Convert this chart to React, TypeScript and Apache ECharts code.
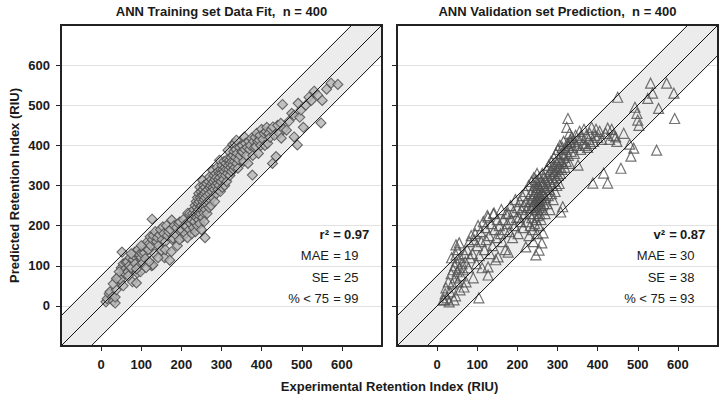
import React, { useEffect, useRef } from "react";
import * as echarts from "echarts";

// ---------- data ----------
const panelTitles = ["ANN Training set Data Fit,  n = 400", "ANN Validation set Prediction,  n = 400"];
const yAxisTitle = "Predicted Retention Index (RIU)";
const xAxisTitle = "Experimental Retention Index (RIU)";
const tickValues = [0, 100, 200, 300, 400, 500, 600];
const axisMin = -100;
const axisMax = 700;

const statLabelsTrain = ["r²", "MAE", "SE", "% < 75"];
const statValuesTrain = ["0.97", "19", "25", "99"];
const statLabelsVal = ["v²", "MAE", "SE", "% < 75"];
const statValuesVal = ["0.87", "30", "38", "93"];

// band of +/- 75 around the identity line
const bandPolygon = [[-100, -25], [625, 700], [700, 700], [700, 625], [-25, -100], [-100, -100]];
const bandLines = [
  [[-100, -25], [625, 700]],
  [[-100, -100], [700, 700]],
  [[-25, -100], [700, 625]],
];

const trainPoints = [
  [12,10],[15,18],[20,30],[22,35],[28,22],[30,12],[35,7],[35,22],[38,40],[40,65],[42,70],[44,72],[46,60],[48,66],[50,95],[52,134],[55,50],[55,105],[58,90],[60,80],[30,55],[45,85],[38,68],
  [62,108],[65,110],[67,85],[68,75],[70,100],[72,120],[75,95],[78,60],[80,115],[82,125],[84,134],[85,105],[88,57],[90,82],[92,140],[95,128],[95,100],[98,85],[100,120],[102,130],[104,107],[106,150],[108,132],[110,118],[112,145],[115,160],[118,140],[120,155],[122,172],[124,150],[126,100],[127,216],[128,165],[129,102],[130,175],[75,130],[88,92],[100,150],[112,95],[120,110],
  [133,130],[135,185],[138,160],[140,170],[143,150],[146,177],[148,190],[150,139],[152,165],[154,197],[156,180],[158,120],[160,160],[163,200],[165,175],[168,185],[171,114],[173,190],[176,214],[178,165],[179,169],[182,200],[185,178],[188,195],[190,150],[193,205],[196,209],[198,185],[200,190],[203,172],[205,215],[208,200],[210,180],[213,198],[216,231],[218,210],[220,190],[221,231],[223,205],[225,215],[228,230],[142,120],[160,140],[175,135],[195,165],[215,170],[226,180],
  [230,195],[231,240],[232,225],[233,210],[234,250],[235,185],[236,230],[237,260],[238,220],[239,245],[240,200],[240,270],[241,235],[242,255],[243,215],[243,280],[244,240],[245,260],[245,225],[246,296],[246,205],[247,270],[248,248],[248,230],[249,285],[250,265],[250,190],[251,250],[251,275],[252,240],[253,313],[253,220],[254,290],[254,260],[255,245],[255,275],[256,232],[256,300],[257,265],[257,210],[258,280],[258,250],[259,170],[259,295],[260,240],[260,270],
  [261,285],[262,255],[263,305],[264,230],[265,275],[266,290],[267,260],[268,310],[269,245],[270,321],[270,280],[271,295],[272,265],[273,300],[274,250],[275,315],[276,285],[277,305],[278,338],[278,270],[279,295],[280,310],[281,325],[282,290],[283,260],[284,315],[285,300],[286,330],[287,280],[288,320],[289,345],[290,305],[291,290],[292,335],[293,315],[294,300],[295,363],[295,330],[296,320],[297,285],[298,340],[299,310],[300,330],[301,350],[302,295],[303,325],[304,340],[305,315],[306,360],[307,335],[308,300],[309,345],[310,325],[311,355],[312,340],[313,310],[314,365],[315,330],[316,388],[317,350],[318,340],[320,363],[321,325],[322,355],[323,345],[324,370],[325,335],[326,360],[328,403],[328,350],[329,375],[330,340],[331,385],[332,360],[333,405],[334,345],[335,370],[336,390],[337,413],[338,355],[339,380],[341,343],
  [342,365],[345,395],[347,375],[350,385],[352,400],[353,384],[355,360],[357,421],[358,390],[360,405],[362,375],[364,395],[366,355],[368,410],[370,390],[372,400],[375,418],[377,326],[378,375],[380,410],[382,395],[384,420],[386,397],[388,430],[390,410],[392,380],[394,413],[396,425],[398,400],[400,440],[403,415],[406,430],[408,400],[411,434],[413,445],[415,405],[418,430],[421,420],[424,440],[427,355],[428,446],[432,425],[436,372],[440,450],[444,430],[448,455],[449,418],
  [452,502],[455,440],[462,438],[468,460],[475,480],[481,475],[481,421],[489,401],[491,505],[495,470],[498,488],[504,445],[510,500],[518,520],[524,512],[531,535],[540,525],[548,456],[551,512],[562,540],[573,555],[590,552],
];

const valPoints = [
  [15,15],[17,15],[20,30],[22,45],[25,20],[28,60],[30,10],[32,35],[35,80],[38,55],[40,90],[42,15],[44,100],[45,70],[46,25],[47,152],[47,127],[48,110],[50,85],[52,60],[55,157],[55,95],[57,40],[58,120],[60,75],[50,140],[36,120],
  [62,105],[65,90],[67,47],[68,130],[70,110],[72,60],[75,140],[78,95],[80,160],[82,120],[85,175],[88,130],[90,70],[92,165],[95,180],[98,105],[100,150],[102,200],[104,20],[105,125],[108,185],[110,160],[112,95],[115,210],[118,140],[120,195],[122,165],[125,225],[127,221],[127,97],[127,77],[130,175],[132,130],[135,205],[138,150],[140,230],[142,231],[143,190],[146,115],[148,170],[150,215],
  [152,122],[155,200],[158,180],[160,240],[163,160],[165,215],[168,190],[170,140],[172,230],[175,205],[177,231],[177,134],[180,185],[183,250],[185,215],[188,170],[190,235],[193,200],[195,265],[198,220],[200,245],[202,180],[204,221],[206,260],[208,210],[210,240],[212,275],[214,195],[216,250],[218,230],[220,285],[221,147],[222,260],[224,210],[226,245],[228,300],[229,175],
  [230,230],[231,260],[232,200],[233,280],[234,245],[235,310],[236,220],[237,265],[238,190],[239,290],[240,250],[240,160],[241,275],[241,320],[242,230],[243,300],[243,205],[244,260],[245,285],[245,240],[246,127],[246,315],[247,270],[247,215],[248,295],[248,250],[249,330],[249,180],[250,265],[250,240],[251,305],[251,225],[252,280],[252,255],[253,295],[253,200],[254,139],[254,270],[255,320],[255,245],[256,290],[256,230],[257,260],[258,310],[258,275],[259,215],[260,300],[260,250],[261,285],[261,157],[262,330],[262,265],[263,240],[264,305],[264,182],[265,280],[266,255],[267,320],[268,295],[269,230],[270,270],
  [271,310],[272,290],[273,340],[274,255],[275,325],[276,300],[277,275],[278,350],[279,315],[280,290],[281,240],[282,335],[283,305],[284,360],[285,280],[286,320],[287,345],[288,300],[289,265],[290,330],[291,370],[292,310],[293,350],[294,285],[295,335],[296,380],[297,320],[298,300],[299,355],[300,340],[301,390],[302,325],[303,365],[304,305],[305,345],[306,400],[307,330],[308,234],[309,360],[310,380],[311,340],[312,395],[313,247],[314,355],[315,410],[316,378],[317,370],[318,345],[320,390],[322,360],[323,445],[324,405],[326,467],[327,375],[328,400],[330,430],[330,355],[332,415],[333,408],[334,385],[336,420],[338,395],[340,410],
  [342,380],[345,425],[348,400],[351,351],[353,415],[355,435],[358,390],[360,420],[363,405],[366,440],[369,400],[372,425],[375,395],[378,415],[380,430],[383,405],[385,445],[388,306],[390,410],[393,425],[396,440],[400,420],[405,435],[410,415],[415,331],[420,430],[425,306],[425,443],[430,415],[435,440],[440,425],[445,421],[448,410],
  [450,520],[458,343],[465,430],[480,403],[483,373],[490,393],[493,495],[498,480],[500,463],[503,450],[525,517],[532,555],[537,530],[547,388],[552,492],[572,555],[590,530],[592,467],
];

// ---------- layout / style ----------
const FONT = '"Liberation Sans", Arial, sans-serif';
const TEXT = "#1a1a1a";
const GRID_TOP = 25;
const GRID_SIZE = 321;
const GRID_LEFTS = [61, 397];

export default function App() {
  const ref = useRef<HTMLDivElement>(null);

  useEffect(() => {
    if (!ref.current) return;
    const chart = echarts.init(ref.current, null, { renderer: "svg" });

    const grids = GRID_LEFTS.map((l) => ({ left: l, top: GRID_TOP, width: GRID_SIZE, height: GRID_SIZE, show: false }));

    const makeX = (i: number) => ({
      type: "value",
      gridIndex: i,
      position: "bottom",
      min: axisMin,
      max: axisMax,
      interval: 100,
      axisLine: { show: false, onZero: false },
      axisTick: { show: true, length: 5, customValues: tickValues, lineStyle: { color: "#222", width: 1 } },
      axisLabel: {
        show: true,
        customValues: tickValues,
        margin: 12,
        fontFamily: FONT,
        fontWeight: "bold",
        fontSize: 13,
        color: TEXT,
        formatter: (v: number) => (v < 0 || v > 600 ? "" : String(v)),
      },
      splitLine: { show: false },
    });
    const makeY = (i: number) => ({
      type: "value",
      gridIndex: i,
      position: "left",
      min: axisMin,
      max: axisMax,
      interval: 100,
      axisLine: { show: false, onZero: false },
      axisTick: { show: true, length: 5, customValues: tickValues, lineStyle: { color: "#222", width: 1 } },
      axisLabel: {
        show: i === 0,
        customValues: tickValues,
        margin: 11,
        fontFamily: FONT,
        fontWeight: "bold",
        fontSize: 13,
        color: TEXT,
        formatter: (v: number) => (v < 0 || v > 600 ? "" : String(v)),
      },
      splitLine: { show: true, lineStyle: { color: "#e2e2e2", width: 1 } },
    });

    const series: any[] = [];
    [0, 1].forEach((i) => {
      series.push({
        type: "custom",
        xAxisIndex: i,
        yAxisIndex: i,
        silent: true,
        z: 1,
        data: [[0, 0]],
        renderItem: (_p: any, api: any) => ({
          type: "polygon",
          shape: { points: bandPolygon.map((p) => api.coord(p)) },
          style: { fill: "#ececec", stroke: null },
        }),
      });
      series.push({
        type: "scatter",
        xAxisIndex: i,
        yAxisIndex: i,
        z: 3,
        symbol: i === 0 ? "diamond" : "triangle",
        symbolSize: i === 0 ? 10 : 10,
        itemStyle:
          i === 0
            ? { color: "#b5b5b5", borderColor: "#4a4a4a", borderWidth: 1.1 }
            : { color: "rgba(0,0,0,0)", borderColor: "#505050", borderWidth: 1.2 },
        data: i === 0 ? trainPoints : valPoints,
      });
      bandLines.forEach((ln) => {
        series.push({
          type: "line",
          xAxisIndex: i,
          yAxisIndex: i,
          z: 4,
          silent: true,
          symbol: "none",
          lineStyle: { color: "#111", width: 1 },
          data: ln,
        });
      });
    });

    const graphic: any[] = [];
    GRID_LEFTS.forEach((l, i) => {
      graphic.push({
        type: "rect",
        z: 100,
        silent: true,
        shape: { x: l, y: GRID_TOP, width: GRID_SIZE, height: GRID_SIZE },
        style: { fill: "transparent", stroke: "#222", lineWidth: 2 },
      });
      graphic.push({
        type: "text",
        z: 100,
        x: l + GRID_SIZE / 2,
        y: 11,
        style: { text: panelTitles[i], font: `bold 13px ${FONT}`, fill: TEXT, align: "center", verticalAlign: "middle" },
      });
      const labels = i === 0 ? statLabelsTrain : statLabelsVal;
      const values = i === 0 ? statValuesTrain : statValuesVal;
      const rowY = [234, 255.5, 277, 298];
      labels.forEach((lab, k) => {
        const bold = k === 0 ? "bold " : "";
        const baseX = l + 268;
        graphic.push({
          type: "text", z: 100, x: baseX, y: rowY[k],
          style: { text: lab, font: `${bold}13px ${FONT}`, fill: TEXT, align: "right", verticalAlign: "middle" },
        });
        graphic.push({
          type: "text", z: 100, x: baseX + 8, y: rowY[k],
          style: { text: "=", font: `${bold}13px ${FONT}`, fill: TEXT, align: "center", verticalAlign: "middle" },
        });
        graphic.push({
          type: "text", z: 100, x: baseX + 15, y: rowY[k],
          style: { text: values[k], font: `${bold}13px ${FONT}`, fill: TEXT, align: "left", verticalAlign: "middle" },
        });
      });
    });
    graphic.push({
      type: "text",
      z: 100,
      x: 14,
      y: GRID_TOP + GRID_SIZE / 2,
      rotation: Math.PI / 2,
      style: { text: yAxisTitle, font: `bold 13px ${FONT}`, fill: TEXT, align: "center", verticalAlign: "middle" },
    });
    graphic.push({
      type: "text",
      z: 100,
      x: (GRID_LEFTS[0] + GRID_LEFTS[1] + GRID_SIZE) / 2,
      y: 386,
      style: { text: xAxisTitle, font: `bold 13px ${FONT}`, fill: TEXT, align: "center", verticalAlign: "middle" },
    });

    chart.setOption({
      animation: false,
      backgroundColor: "#ffffff",
      grid: grids,
      xAxis: [makeX(0), makeX(1)],
      yAxis: [makeY(0), makeY(1)],
      series,
      graphic,
    });

    return () => chart.dispose();
  }, []);

  return <div ref={ref} style={{ position: "fixed", left: 0, top: 0, width: 724, height: 402 }} />;
}
